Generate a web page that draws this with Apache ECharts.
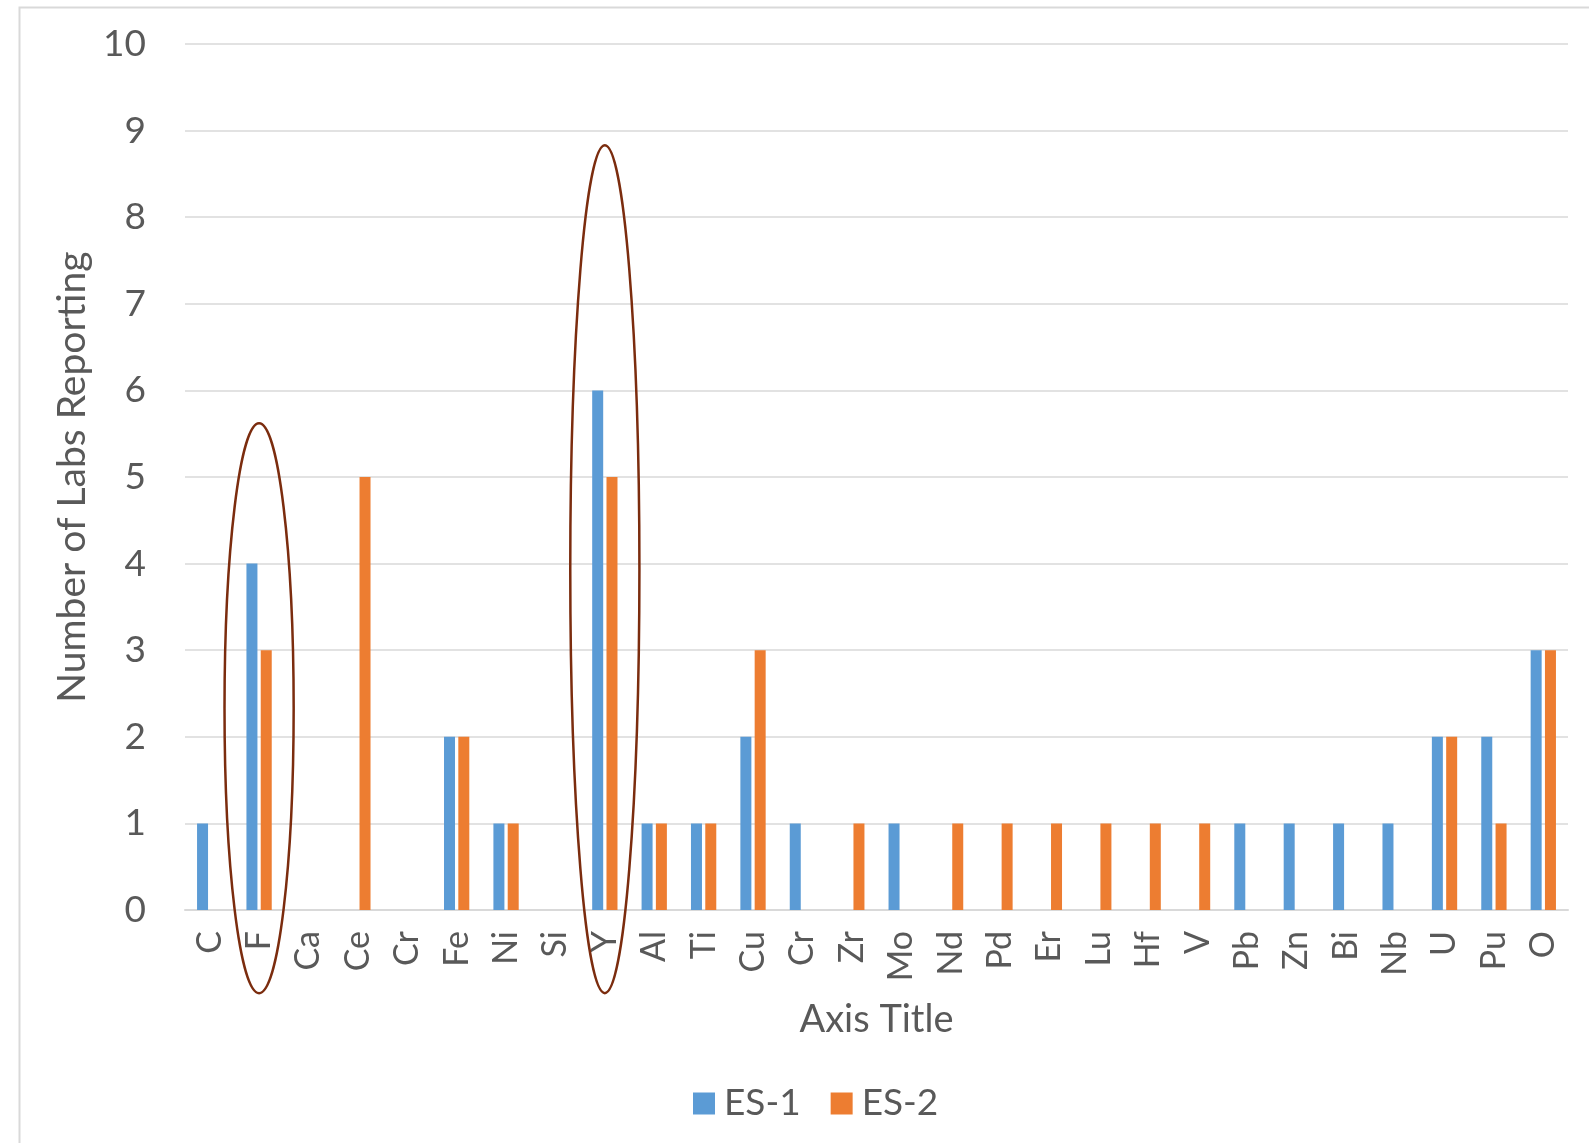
<!DOCTYPE html>
<html>
<head>
<meta charset="utf-8">
<script src="https://cdn.jsdelivr.net/npm/echarts@6/dist/echarts.min.js"></script>
<style>
  html, body { margin: 0; padding: 0; background: #fff; }
  #chart { width: 1589px; height: 1143px; }
</style>
</head>
<body>
<div id="chart"></div>
<script>
// Elements reported by each exercise
const categories = ['C', 'F', 'Ca', 'Ce', 'Cr', 'Fe', 'Ni', 'Si', 'Y', 'Al', 'Ti', 'Cu', 'Cr', 'Zr', 'Mo',
  'Nd', 'Pd', 'Er', 'Lu', 'Hf', 'V', 'Pb', 'Zn', 'Bi', 'Nb', 'U', 'Pu', 'O'];
const es1 = [1, 4, 0, 0, 0, 2, 1, 0, 6, 1, 1, 2, 1, 0, 1, 0, 0, 0, 0, 0, 0, 1, 1, 1, 1, 2, 2, 3];
const es2 = [0, 3, 0, 5, 0, 2, 1, 0, 5, 1, 1, 3, 0, 1, 0, 1, 1, 1, 1, 1, 1, 0, 0, 0, 0, 2, 1, 3];
const yTicks = [0, 10, 1]; // min, max, interval

// Highlight ovals: [category index, top value, bottom value]
const highlights = [[1, 5.62, -0.96], [8, 8.83, -0.96]];

const FONT = 'Lato';
const TEXT = '#595959';

const chart = echarts.init(document.getElementById('chart'), null, { renderer: 'canvas' });

chart.setOption({
  backgroundColor: '#fff',
  animation: false,
  textStyle: { fontFamily: FONT, color: TEXT },
  graphic: [{
    type: 'rect',
    left: 17, top: 5,
    shape: { width: 1620, height: 1200 },
    style: { fill: 'none', stroke: '#D9D9D9', lineWidth: 2 },
    z: -1
  }],
  grid: { left: 185, right: 21, top: 44, bottom: 233, containLabel: false },
  legend: {
    data: ['ES-1', 'ES-2'],
    left: 688, top: 1080,
    icon: 'rect',
    itemWidth: 22, itemHeight: 22, itemGap: 30,
    textStyle: { fontFamily: FONT, fontSize: 37, color: TEXT, padding: [0, 0, 0, 4] }
  },
  xAxis: {
    type: 'category',
    data: categories,
    name: 'Axis Title',
    nameLocation: 'middle',
    nameGap: 91,
    nameTextStyle: { fontFamily: FONT, fontSize: 38, color: TEXT },
    axisLine: { lineStyle: { color: '#D9D9D9', width: 2 } },
    axisTick: { show: false },
    axisLabel: { rotate: 90, interval: 0, margin: 21, fontFamily: FONT, fontSize: 34, color: TEXT },
    splitLine: { show: false }
  },
  yAxis: {
    type: 'value',
    min: yTicks[0], max: yTicks[1], interval: yTicks[2],
    name: 'Number of Labs Reporting',
    nameLocation: 'middle',
    nameGap: 89,
    nameTextStyle: { fontFamily: FONT, fontSize: 39, color: TEXT },
    axisLine: { show: false },
    axisTick: { show: false },
    axisLabel: { margin: 39, fontFamily: FONT, fontSize: 37, color: TEXT },
    splitLine: { lineStyle: { color: '#D9D9D9', width: 1.5 } }
  },
  series: [
    {
      name: 'ES-1', type: 'bar', data: es1,
      barWidth: 11, barGap: '30%',
      itemStyle: { color: '#5B9BD5' }
    },
    {
      name: 'ES-2', type: 'bar', data: es2,
      barWidth: 11, barGap: '30%',
      itemStyle: { color: '#ED7D31' }
    },
    {
      name: 'highlight', type: 'custom', data: highlights,
      clip: false, silent: true, z: 5,
      renderItem: function (params, api) {
        const top = api.coord([api.value(0), api.value(1)]);
        const bottom = api.coord([api.value(0), api.value(2)]);
        const catW = api.size([1, 0])[0];
        return {
          type: 'ellipse',
          shape: { cx: top[0], cy: (top[1] + bottom[1]) / 2, rx: catW * 0.7, ry: (bottom[1] - top[1]) / 2 },
          style: { fill: 'none', stroke: '#7B2C0E', lineWidth: 2.5 }
        };
      }
    }
  ]
});
</script>
</body>
</html>
